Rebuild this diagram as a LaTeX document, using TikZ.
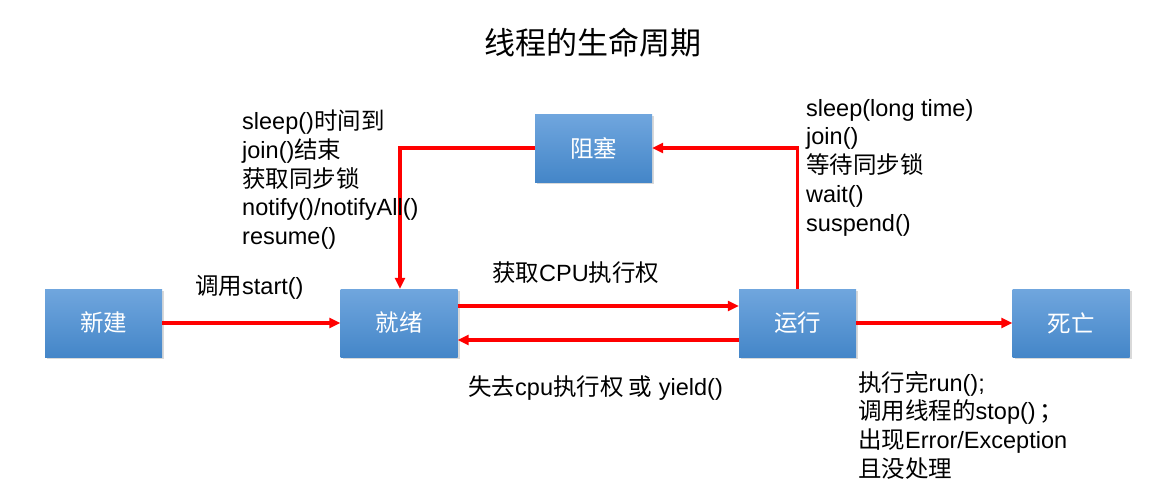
\documentclass[tikz,border=0pt]{standalone}
\usepackage{fontspec}
\setmainfont{Liberation Sans}
\newfontfamily\cjk{Noto Sans CJK SC}
\newcommand{\zh}[1]{{\cjk #1}}
\usetikzlibrary{shadows,arrows.meta}
\definecolor{boxtop}{RGB}{112,166,222}
\definecolor{boxbot}{RGB}{68,134,200}
\definecolor{arr}{RGB}{255,0,0}
\tikzset{
  state/.style={draw=none, minimum width=117pt, minimum height=68pt, inner sep=0pt,
    top color=boxtop, bottom color=boxbot, text=white,
    drop shadow={shadow xshift=2pt, shadow yshift=-2pt, opacity=0.3, fill=black!50},
    font=\fontsize{23.5}{26}\selectfont\cjk},
  conn/.style={draw=arr, line width=3.5pt, -{Triangle[length=11pt,width=10pt]}},
  lbl/.style={inner sep=0pt, font=\fontsize{23.5}{28.7}\selectfont, align=left}
}
\begin{document}
\begin{tikzpicture}[x=1pt,y=-1pt]
\useasboundingbox (0,0) rectangle (1149,496);
\node[inner sep=0pt, font=\fontsize{31}{34}\selectfont\cjk] (title) at (593,43) {线程的生命周期};
\node[state] (new) at (103.5,323) {新建};
\node[state] (ready) at (399,323) {就绪};
\node[state] (block) at (593.5,148) {阻塞};
\node[state] (run) at (797.5,323) {运行};
\node[state] (dead) at (1071,323) {死亡};
\coordinate (c1) at (797.5,148);
\coordinate (c2) at (400,148);
\draw[conn] (new) -- (ready);
\draw[conn] (ready.east |- 0,306) -- (run.west |- 0,306);
\draw[conn] (run.west |- 0,340) -- (ready.east |- 0,340);
\draw[conn] (run.north) -- (c1) -- (block.east);
\draw[conn] (block.west) -- (c2) -- (ready.north -| c2);
\draw[conn] (run) -- (dead);
\node[lbl, anchor=west] (l1) at (195,287) {\zh{调用}start()};
\node[lbl, anchor=west] (l2) at (492,273) {\zh{获取}CPU\zh{执行权}};
\node[lbl, anchor=west] (l3) at (468,388) {\zh{失去}cpu\zh{执行权 或} yield()};
\node[lbl, anchor=north west] (l4) at (242,110) {sleep()\zh{时间到}\\join()\zh{结束}\\\zh{获取同步锁}\\notify()/notifyAll()\\resume()};
\node[lbl, anchor=north west] (l5) at (806,99) {sleep(long time)\\join()\\\zh{等待同步锁}\\wait()\\suspend()};
\node[lbl, anchor=north west] (l6) at (858,371) {\zh{执行完}run();\\\zh{调用线程的}stop()\,\zh{；}\\\zh{出现}Error/Exception\\\zh{且没处理}};
\end{tikzpicture}
\end{document}
